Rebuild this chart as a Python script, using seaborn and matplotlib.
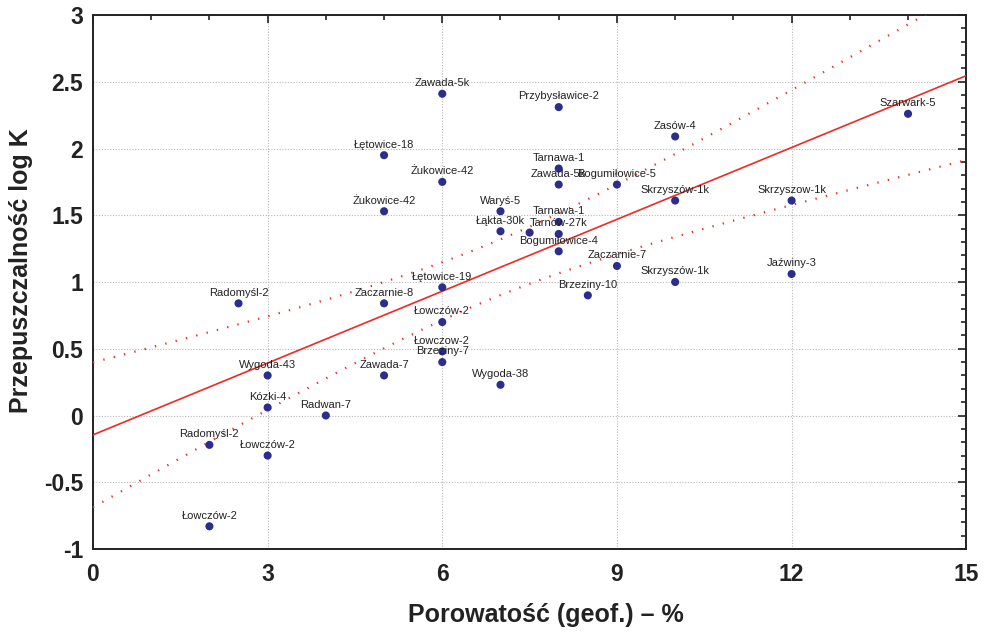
import numpy as np
import pandas as pd
import matplotlib
matplotlib.use("Agg")
import matplotlib.pyplot as plt
from matplotlib.ticker import MultipleLocator
import seaborn as sns

# ---- data ----
names = ["Zawada-5k", "Przybysławice-2", "Zasów-4", "Szarwark-5", "Łętowice-18",
         "Tarnawa-1", "Żukowice-42", "Zawada-5k", "Bogumiłowice-5", "Skrzyszów-1k",
         "Skrzyszow-1k", "Żukowice-42", "Waryś-5", "Łąkta-30k", "",
         "Tarnawa-1", "Tarnów-27k", "Bogumiłowice-4", "Zaczarnie-7", "Skrzyszów-1k",
         "Jaźwiny-3", "Brzeziny-10", "Radomyśl-2", "Zaczarnie-8", "Łętowice-19",
         "Łowczów-2", "Łowczow-2", "Brzeziny-7", "Wygoda-43", "Zawada-7",
         "Wygoda-38", "Kózki-4", "Radwan-7", "Radomyśl-2", "Łowczów-2",
         "Łowczów-2"]
porosity = [6, 8, 10, 14, 5,
            8, 6, 8, 9, 10,
            12, 5, 7, 7, 7.5,
            8, 8, 8, 9, 10,
            12, 8.5, 2.5, 5, 6,
            6, 6, 6, 3, 5,
            7, 3, 4, 2, 3,
            2]
logk = [2.41, 2.31, 2.09, 2.26, 1.95,
        1.85, 1.75, 1.73, 1.73, 1.61,
        1.61, 1.53, 1.53, 1.38, 1.37,
        1.45, 1.36, 1.23, 1.12, 1.00,
        1.06, 0.90, 0.84, 0.84, 0.96,
        0.70, 0.48, 0.40, 0.30, 0.30,
        0.23, 0.06, 0.00, -0.22, -0.30,
        -0.83]

x_ticks = [0, 3, 6, 9, 12, 15]
y_ticks = [-1, -0.5, 0, 0.5, 1, 1.5, 2, 2.5, 3]
x_label = "Porowatość (geof.) – %"
y_label = "Przepuszczalność log K"

df = pd.DataFrame({"name": names, "por": porosity, "logk": logk})

# ---- regression and 95% confidence band ----
x = df["por"].to_numpy(float)
y = df["logk"].to_numpy(float)
n = len(x)
slope, intercept = np.polyfit(x, y, 1)
resid = y - (intercept + slope * x)
s = np.sqrt(np.sum(resid ** 2) / (n - 2))
xbar = x.mean()
sxx = np.sum((x - xbar) ** 2)
t_val = 2.028
xg = np.linspace(0, 15, 301)
yfit = intercept + slope * xg
hw = t_val * s * np.sqrt(1.0 / n + (xg - xbar) ** 2 / sxx)
fit_df = pd.DataFrame({"x": xg, "fit": yfit, "lo": yfit - hw, "hi": yfit + hw})

# ---- figure ----
sns.set_style("white")
plt.rcParams["font.family"] = ["Liberation Sans", "DejaVu Sans"]

fig = plt.figure(figsize=(9.89, 6.33), dpi=100)
ax = fig.add_axes([0.094, 0.1327, 0.883, 0.8436])

red = "#ee2a24"
sns.lineplot(data=fit_df, x="x", y="fit", ax=ax, color=red, lw=1.2, zorder=3)
sns.lineplot(data=fit_df, x="x", y="hi", ax=ax, color=red, lw=1.6,
             linestyle=(0, (0.6, 4.2)), zorder=3)
sns.lineplot(data=fit_df, x="x", y="lo", ax=ax, color=red, lw=1.6,
             linestyle=(0, (0.6, 4.2)), zorder=3)

sns.scatterplot(data=df, x="por", y="logk", ax=ax, color="#2b2e8c", s=34,
                edgecolor="none", zorder=4)

for _, r in df.iterrows():
    if r["name"]:
        ax.annotate(r["name"], (r["por"], r["logk"]), xytext=(0, 5.5),
                    textcoords="offset points", ha="center", va="baseline",
                    fontsize=8, color="#222222", zorder=5)

ax.set_xlim(0, 15)
ax.set_ylim(-1, 3)
ax.set_xticks(x_ticks)
ax.set_yticks(y_ticks)
ax.set_xticklabels([f"{v:g}" for v in x_ticks])
ax.set_yticklabels([f"{v:g}" for v in y_ticks])
ax.xaxis.set_minor_locator(MultipleLocator(1))
ax.yaxis.set_minor_locator(MultipleLocator(0.1))
ax.tick_params(which="both", direction="in", top=True, right=True,
               color="#222222", width=1.2)
ax.tick_params(which="major", length=6, labelsize=16.5)
ax.tick_params(axis="y", which="major", pad=7)
ax.tick_params(axis="x", which="major", pad=10)
ax.tick_params(which="minor", length=3.5)
for lab in ax.get_xticklabels() + ax.get_yticklabels():
    lab.set_fontweight("bold")
    lab.set_color("#222222")

ax.grid(True, which="major", color="#b8b8b8", linestyle=(0, (1, 1.5)), lw=0.8)
for sp in ax.spines.values():
    sp.set_color("#222222")
    sp.set_linewidth(1.4)

ax.set_xlabel(x_label, fontsize=18, fontweight="bold", color="#222222")
ax.set_ylabel(y_label, fontsize=18, fontweight="bold", color="#222222")
ax.xaxis.set_label_coords(0.519, -0.101)
ax.yaxis.set_label_coords(-0.0687, 0.522)

fig.savefig("out.png", dpi=100)
